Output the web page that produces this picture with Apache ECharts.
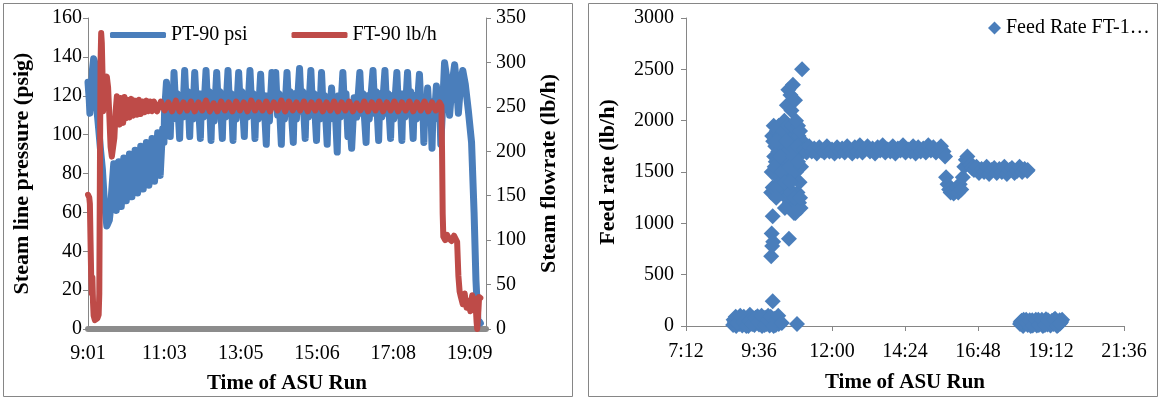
<!DOCTYPE html>
<html style="height:100%;">

<head>
  <meta charset="utf-8">
  <script src="https://cdn.jsdelivr.net/npm/echarts@6.0.0/dist/echarts.min.js"></script>
  <style>
    body { margin: 0; background: #fff; }
    #chart { width: 1160px; height: 400px; }
  </style>
</head>

<body>
  <div id="chart"></div>
  <script>
    // left panel: minutes since the 9:01 start of the run
    const runStart = '9:01';
    const leftTicks = ['9:01', '11:03', '13:05', '15:06', '17:08', '19:09'];

    const ptMinutes = [0, 2, 3, 5, 7, 9, 11, 13, 15, 17, 20, 23, 26, 30,
      34, 36, 38, 41, 43, 44, 45, 47, 49, 51, 52, 53, 55, 57, 59, 60, 61, 64, 66, 68, 69, 70, 73, 75, 77, 78, 79,
      82, 84, 86, 87, 88, 91, 93, 95, 96, 97, 100, 102, 104, 105, 106, 109, 111, 113, 114, 115, 117, 119, 121, 122,
      125, 128, 131, 133, 135, 137, 140, 142, 146, 148, 151, 154, 157, 159, 162, 164, 167, 170, 173, 175,
      179, 181, 184, 188, 191, 193, 196, 198, 201, 205, 208, 210, 214, 216, 219, 223, 226, 228,
      231, 233, 236, 240, 243, 245, 249, 251, 254, 258, 261, 263, 266, 268, 271, 275, 278, 280,
      284, 286, 289, 293, 296, 299, 302, 304, 308, 310, 313, 317, 320, 322, 327, 329, 332, 337, 340, 342,
      346, 348, 351, 355, 358, 360, 364, 366, 369, 372, 375, 377, 381, 383, 385, 388, 391, 393,
      397, 399, 402, 406, 409, 411, 414, 416, 420, 424, 428, 433, 436, 438, 443, 445, 448, 454, 457, 459,
      463, 465, 468, 473, 476, 478, 482, 484, 487, 492, 495, 497, 500, 502, 505, 509, 512, 514,
      518, 520, 523, 528, 531, 533, 535, 537, 539, 541, 544, 546, 548, 550, 552, 555, 558, 560, 562, 565,
      568, 572, 576, 580, 584, 587, 590, 594, 597, 601, 606, 611, 615, 618, 621, 625];
    const ptPsi = [127, 118, 111, 117, 133, 139, 137, 124, 110, 103, 92, 82, 66, 53,
      56, 62, 72, 85, 70, 76, 61, 74, 86, 72, 78, 63, 76, 88, 74, 80, 66, 79, 90, 76, 82, 68, 80, 92, 78, 84, 70,
      82, 94, 80, 86, 72, 84, 96, 82, 88, 74, 86, 98, 84, 90, 76, 89, 101, 87, 93, 79, 92, 103, 96, 112,
      127, 114, 99, 119, 108, 132, 112, 121, 98, 120, 109, 133, 111, 122, 99, 120, 108, 132, 112, 121,
      98, 121, 109, 133, 111, 122, 97, 120, 107, 132, 112, 122, 98, 121, 109, 133, 110, 121,
      97, 120, 108, 132, 111, 122, 99, 121, 109, 133, 112, 121, 98, 120, 108, 131, 110, 120,
      95, 120, 107, 132, 126, 132, 110, 121, 95, 120, 108, 132, 111, 122, 96, 121, 108, 134, 112, 122,
      98, 121, 109, 133, 111, 121, 97, 120, 108, 132, 110, 120, 95, 118, 109, 124, 108, 119,
      91, 120, 109, 132, 110, 121, 99, 112, 93, 119, 109, 132, 111, 121, 96, 120, 108, 133, 111, 122,
      97, 121, 109, 133, 111, 121, 98, 120, 108, 132, 110, 120, 97, 121, 109, 132, 111, 122,
      98, 120, 108, 131, 109, 119, 96, 117, 110, 124, 108, 116, 93, 117, 110, 125, 108, 117, 95, 115,
      137, 128, 110, 126, 136, 126, 111, 128, 133, 126, 112, 96, 60, 25, 5, 3];

    const ftMinutes = [0, 2, 3, 4, 5, 6, 7, 8, 9, 11, 13, 15, 17, 18, 19, 20, 21, 22, 23, 24, 26, 28, 30, 32, 34, 36, 38, 40, 42, 44,
      46, 48, 50, 52, 54, 56, 58, 60, 63, 66, 69, 72, 75, 78, 81, 84, 87, 90, 93, 96, 99, 102, 105,
      110, 116, 122, 128, 134, 140, 146, 152, 158, 164, 170, 176, 182, 188, 194, 200, 206, 212, 218, 224, 230, 236, 242, 248,
      254, 260, 266, 272, 278, 284, 290, 296, 302, 308, 314, 320, 326, 332, 338, 344, 350, 356, 362, 368, 374, 380, 386, 392,
      398, 404, 410, 416, 422, 428, 434, 440, 446, 452, 458, 464, 470, 476, 482, 488, 494, 500, 506, 512, 518, 524, 530, 536,
      542, 548, 554, 560, 563, 564, 565, 566, 569, 572, 575, 579, 583, 586, 588, 590, 592, 594, 597, 600, 603, 606, 609, 612,
      615, 617, 619, 620, 622, 623, 625];
    const ftLbh = [151, 148, 141, 100, 62, 40, 58, 30, 15, 10, 8, 12, 16, 40, 180, 300, 333, 322, 290, 245, 262, 278, 284, 272, 240, 205, 194, 196, 215, 245,
      262, 250, 230, 260, 240, 232, 261, 237, 258, 238, 259, 240, 257, 241, 258, 242, 256, 244, 257, 245, 256, 245, 256,
      245, 256, 246, 255, 245, 257, 245, 255, 246, 256, 245, 255, 246, 257, 245, 254, 245, 256, 246, 255, 245, 256, 246, 255,
      245, 257, 246, 255, 246, 256, 245, 255, 246, 257, 245, 256, 246, 255, 246, 256, 245, 255, 246, 256, 245, 255, 246, 256,
      245, 255, 246, 256, 245, 254, 246, 256, 245, 255, 246, 256, 245, 255, 246, 256, 245, 255, 246, 256, 245, 255, 246, 256,
      245, 255, 246, 255, 251, 200, 130, 104, 100, 106, 102, 99, 105, 103, 98, 60, 42, 36, 28, 40, 24, 32, 20, 38,
      30, 34, 8, 0, 22, 36, 35];

    // right panel: clock time of each feed-rate reading
    const feedClock = [
      '8:45', '8:48', '8:51', '8:54', '8:57', '9:00', '9:03', '9:06', '9:09', '9:12', '9:15', '9:18', '9:21', '9:24', '9:27', '9:30',
      '9:33', '9:36', '9:39', '9:42', '9:45', '9:48', '9:51', '9:54', '9:57', '10:00', '10:03', '10:06', '10:09', '10:12', '10:15',
      '8:46', '8:50', '8:53', '8:59', '9:05', '9:11', '9:17', '9:23', '9:29', '9:35', '9:41', '9:47', '9:53', '9:59', '10:05', '10:11', '10:14',
      '10:00', '10:01', '10:02', '10:03', '10:03', '10:04', '10:00', '10:03', '10:01', '10:04', '10:02', '10:21', '10:51',
      '10:06', '10:08', '10:09', '10:11', '10:13', '10:14', '10:16', '10:17', '10:19', '10:20', '10:22', '10:23', '10:25', '10:26',
      '10:28', '10:29', '10:31', '10:32', '10:33', '10:34', '10:35', '10:36', '10:37', '10:38', '10:39', '10:40', '10:41', '10:42',
      '10:43', '10:44', '10:45', '10:46', '10:47', '10:48', '10:50', '10:51', '10:52', '10:54', '10:55', '10:56', '10:58', '11:00',
      '11:01', '11:02', '11:04',
      '10:05', '10:07', '10:10', '10:12', '10:15', '10:18', '10:21', '10:24', '10:27', '10:30', '10:30', '10:33', '10:36', '10:39',
      '10:41', '10:44', '10:46', '10:49', '10:52', '10:53', '10:56', '10:57', '10:59', '10:27', '10:38', '10:45', '10:53', '10:49',
      '10:57', '10:10',
      '11:05', '11:10', '11:15', '11:20', '11:25', '11:30', '11:35', '11:40', '11:45', '11:50', '11:55', '12:00', '12:05', '12:10',
      '12:15', '12:20', '12:25', '12:30', '12:35', '12:40', '12:45', '12:50', '12:55', '13:00', '13:05', '13:10', '13:15', '13:20',
      '13:25', '13:30', '13:35', '13:40', '13:45', '13:50', '13:55', '14:00', '14:05', '14:10', '14:15', '14:20', '14:25', '14:30',
      '14:35', '14:40', '14:45', '14:50', '14:55', '15:00', '15:05', '15:10', '15:15', '15:20', '15:25', '15:30', '15:35', '15:40',
      '15:43', '15:45', '15:48', '15:51', '15:54', '15:57', '16:00', '16:03', '16:06', '16:09', '16:12', '16:15', '16:18', '16:21',
      '16:24', '16:27', '16:30', '16:33', '16:36', '16:40', '16:45', '16:50', '16:55', '17:00', '17:05', '17:10', '17:15', '17:20',
      '17:25', '17:30', '17:35', '17:40', '17:45', '17:50', '17:55', '18:00', '18:05', '18:10', '18:15', '18:20', '18:25', '18:26',
      '18:11', '18:14', '18:17', '18:20', '18:23', '18:26', '18:29', '18:32', '18:35', '18:38', '18:41', '18:44', '18:47', '18:50',
      '18:53', '18:56', '18:59', '19:02', '19:05', '19:08', '19:11', '19:14', '19:17', '19:20', '19:23', '19:26', '19:29', '19:32', '19:34',
      '18:12', '18:18', '18:24', '18:30', '18:36', '18:42', '18:48', '18:54', '19:00', '19:06', '19:12', '19:18', '19:24', '19:30'];
    const feedRate = [
      10, 40, 0, 70, 20, 50, 5, 90, 30, 60, 0, 110, 25, 75, 10, 45,
      95, 15, 60, 0, 35, 80, 20, 100, 5, 50, 30, 70, 10, 40, 20,
      60, 90, 30, 100, 40, 0, 50, 20, 80, 40, 100, 10, 60, 90, 0, 60, 100,
      680, 900, 780, 240, 1070, 820, 1300, 1350, 1500, 1800, 1850, 30, 20,
      1650, 1750, 1600, 1900, 1450, 1700, 1550, 1850, 1400, 1950, 1750, 1300, 1600, 2000,
      1850, 1500, 2150, 1700, 1350, 2300, 850, 1900, 1200, 2250, 1600, 2100, 1750, 1150,
      2350, 1450, 1950, 1800, 2200, 1100, 1650, 1900, 1300, 1850, 1200, 1750, 1150, 1700,
      2500, 1800, 1700,
      1950, 1550, 1800, 1350, 1950, 1650, 1500, 1900, 1400, 1800, 1250, 1950, 1550, 1300,
      1950, 1650, 1250, 1500, 1750, 1950, 1400, 1900, 1550, 1150, 1400, 1100, 1600, 2000,
      1250, 1250,
      1720, 1690, 1750, 1700, 1730, 1680, 1740, 1710, 1690, 1750, 1700, 1720, 1680, 1740,
      1700, 1730, 1690, 1750, 1710, 1680, 1740, 1700, 1760, 1690, 1720, 1750, 1700, 1730,
      1680, 1740, 1710, 1760, 1690, 1720, 1700, 1750, 1680, 1730, 1710, 1760, 1690, 1720,
      1700, 1750, 1680, 1740, 1700, 1730, 1690, 1760, 1710, 1740, 1690, 1720, 1750, 1700,
      1650, 1450, 1380, 1330, 1300, 1320, 1290, 1310, 1350, 1300, 1380, 1330, 1450, 1550,
      1620, 1650, 1600, 1570, 1540, 1520, 1550, 1490, 1530, 1500, 1550, 1480, 1520, 1540,
      1490, 1530, 1500, 1550, 1480, 1520, 1540, 1490, 1510, 1550, 1500, 1530, 1510, 1520,
      20, 50, 0, 30, 60, 10, 40, 0, 55, 20, 35, 5, 60, 25,
      45, 0, 30, 65, 15, 40, 5, 50, 20, 70, 30, 10, 55, 40, 60,
      40, 60, 30, 55, 5, 60, 10, 60, 10, 55, 30, 60, 0, 25];

    const font = "'Liberation Serif', 'Times New Roman', serif";
    const axisGray = '#868686';
    const blue = '#4a7ebb';
    const red = '#be4b48';

    function toMin(s) {
      const p = s.split(':');
      return +p[0] * 60 + +p[1];
    }
    function toClock(m) {
      const h = Math.floor(m / 60);
      const mm = m % 60;
      return h + ':' + (mm < 10 ? '0' : '') + mm;
    }

    const startMin = toMin(runStart);
    // spacing of the left tick labels, in minutes
    const leftStep = (toMin(leftTicks[leftTicks.length - 1]) - startMin) / (leftTicks.length - 1);

    const chart = echarts.init(document.getElementById('chart'));
    const label = { color: '#000', fontSize: 20, fontFamily: font };
    const title = { color: '#000', fontSize: 21, fontWeight: 'bold', fontFamily: font };
    const vTitle = { color: '#000', fontSize: 22, fontWeight: 'bold', fontFamily: font };

    const option = {
      animation: false,
      backgroundColor: '#fff',
      graphic: [
        { type: 'rect', shape: { x: 3.5, y: 3.5, width: 569, height: 393 }, style: { fill: 'none', stroke: axisGray, lineWidth: 1 } },
        { type: 'rect', shape: { x: 588.5, y: 3.5, width: 569, height: 393 }, style: { fill: 'none', stroke: axisGray, lineWidth: 1 } }
      ],
      legend: [{
          data: ['PT-90 psi', 'FT-90 lb/h'],
          left: 105,
          top: 20,
          icon: 'roundRect',
          itemWidth: 56,
          itemHeight: 6,
          itemGap: 44,
          textStyle: label
        },
        {
          data: ['Feed Rate FT-1…'],
          left: 983,
          top: 13,
          icon: 'diamond',
          itemWidth: 13,
          itemHeight: 13,
          itemGap: 4,
          textStyle: label
        }
      ],
      grid: [
        { left: 88, top: 18, width: 398, height: 311, outerBoundsMode: 'none' },
        { left: 686, top: 18, width: 438, height: 308, outerBoundsMode: 'none' }
      ],
      xAxis: [{
          gridIndex: 0,
          type: 'value',
          min: 0,
          max: 634,
          interval: leftStep,
          name: 'Time of ASU Run',
          nameLocation: 'middle',
          nameGap: 44,
          nameTextStyle: title,
          axisLine: { lineStyle: { color: '#8c8c8c', width: 6 } },
          axisTick: { show: false },
          splitLine: { show: false },
          axisLabel: Object.assign({}, label, {
            margin: 15,
            showMaxLabel: false,
            formatter: v => v > 620 ? '' : toClock(Math.ceil(v + startMin - 1e-6))
          })
        },
        {
          gridIndex: 1,
          type: 'value',
          min: 432,
          max: 1296,
          interval: 144,
          name: 'Time of ASU Run',
          nameLocation: 'middle',
          nameGap: 46,
          nameTextStyle: title,
          axisLine: { lineStyle: { color: axisGray } },
          axisTick: { length: 5, lineStyle: { color: axisGray } },
          splitLine: { show: false },
          axisLabel: Object.assign({}, label, { margin: 16, formatter: v => toClock(v) })
        }
      ],
      yAxis: [{
          gridIndex: 0,
          type: 'value',
          min: 0,
          max: 160,
          interval: 20,
          name: 'Steam line pressure (psig)',
          nameLocation: 'middle',
          nameGap: 55,
          nameTextStyle: vTitle,
          axisLine: { show: true, lineStyle: { color: axisGray } },
          axisTick: { show: true, length: 5, lineStyle: { color: axisGray } },
          splitLine: { show: false },
          axisLabel: Object.assign({}, label, { margin: 6 })
        },
        {
          gridIndex: 0,
          type: 'value',
          position: 'right',
          min: 0,
          max: 350,
          interval: 50,
          name: 'Steam flowrate (lb/h)',
          nameLocation: 'middle',
          nameGap: 52,
          nameTextStyle: vTitle,
          axisLine: { show: true, lineStyle: { color: axisGray } },
          axisTick: { show: true, length: 5, lineStyle: { color: axisGray } },
          splitLine: { show: false },
          axisLabel: Object.assign({}, label, { margin: 10 })
        },
        {
          gridIndex: 1,
          type: 'value',
          min: 0,
          max: 3000,
          interval: 500,
          name: 'Feed rate (lb/h)',
          nameLocation: 'middle',
          nameGap: 67,
          nameTextStyle: vTitle,
          axisLine: { show: true, lineStyle: { color: axisGray } },
          axisTick: { show: true, length: 5, lineStyle: { color: axisGray } },
          splitLine: { show: false },
          axisLabel: Object.assign({}, label, { margin: 12, formatter: v => String(v) })
        }
      ],
      series: [{
          name: 'PT-90 psi',
          type: 'line',
          xAxisIndex: 0,
          yAxisIndex: 0,
          showSymbol: false,
          color: blue,
          lineStyle: { width: 7, cap: 'round', join: 'round' },
          data: ptMinutes.map((m, i) => [m, ptPsi[i]])
        },
        {
          name: 'FT-90 lb/h',
          type: 'line',
          xAxisIndex: 0,
          yAxisIndex: 1,
          showSymbol: false,
          color: red,
          lineStyle: { width: 6, cap: 'round', join: 'round' },
          data: ftMinutes.map((m, i) => [m, ftLbh[i]])
        },
        {
          name: 'Feed Rate FT-1…',
          type: 'scatter',
          xAxisIndex: 1,
          yAxisIndex: 2,
          symbol: 'diamond',
          symbolSize: 16,
          color: blue,
          itemStyle: { opacity: 1 },
          data: feedClock.map((t, i) => [toMin(t), feedRate[i]])
        }
      ]
    };

    chart.setOption(option);
  </script>
</body>

</html>
